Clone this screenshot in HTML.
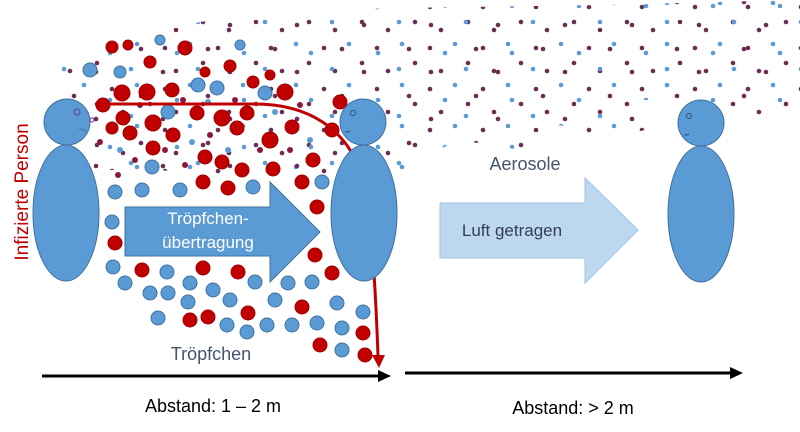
<!DOCTYPE html>
<html><head><meta charset="utf-8"><style>
html,body{margin:0;padding:0;background:#fff;}
svg{display:block;font-family:"Liberation Sans",sans-serif;}
</style></head><body>
<svg width="800" height="432" viewBox="0 0 800 432" xmlns="http://www.w3.org/2000/svg">
<defs>
<pattern id="pa" width="53" height="41" patternUnits="userSpaceOnUse">
<circle cx="6" cy="7" r="2.3" fill="#6b2d55"/><circle cx="31" cy="3" r="2.3" fill="#5b9bd5"/>
<circle cx="44" cy="22" r="2.3" fill="#6b2d55"/><circle cx="17" cy="30" r="2.3" fill="#6b2d55"/>
</pattern>
<pattern id="pb" width="67" height="47" patternUnits="userSpaceOnUse" x="19" y="13">
<circle cx="10" cy="12" r="2.3" fill="#6b2d55"/><circle cx="45" cy="9" r="2.3" fill="#5b9bd5"/>
<circle cx="55" cy="36" r="2.3" fill="#6b2d55"/><circle cx="24" cy="40" r="2.3" fill="#5b9bd5"/>
</pattern>
</defs>
<polygon points="62,60 120,40 200,22 270,12 400,8 600,5 800,0 800,105 760,115 700,100 640,100 645,130 600,140 560,125 520,150 460,140 420,158 400,180 330,175 250,180 160,170 90,170 62,120" fill="url(#pa)"/>
<polygon points="62,60 120,40 200,22 270,12 400,8 600,5 800,0 800,105 760,115 700,100 640,100 645,130 600,140 560,125 520,150 460,140 420,158 400,180 330,175 250,180 160,170 90,170 62,120" fill="url(#pb)"/>
<g fill="#c00000" stroke="#a00000">
<circle cx="122" cy="93" r="8"/><circle cx="147" cy="92" r="8"/><circle cx="172" cy="90" r="7"/><circle cx="253" cy="82" r="6"/><circle cx="285" cy="92" r="8"/><circle cx="103" cy="105" r="7"/>
<circle cx="123" cy="118" r="7"/><circle cx="153" cy="123" r="8"/><circle cx="197" cy="113" r="7"/><circle cx="222" cy="118" r="8"/><circle cx="247" cy="113" r="7"/><circle cx="112" cy="128" r="6"/><circle cx="130" cy="133" r="7"/><circle cx="173" cy="135" r="7"/><circle cx="237" cy="128" r="7"/><circle cx="270" cy="140" r="8"/><circle cx="292" cy="127" r="7"/><circle cx="313" cy="160" r="7"/><circle cx="332" cy="130" r="7"/><circle cx="340" cy="102" r="7"/>
<circle cx="153" cy="148" r="7"/><circle cx="205" cy="157" r="7"/><circle cx="222" cy="162" r="7"/><circle cx="242" cy="170" r="7"/><circle cx="273" cy="169" r="7"/><circle cx="302" cy="182" r="7"/><circle cx="203" cy="182" r="7"/><circle cx="228" cy="188" r="7"/><circle cx="317" cy="207" r="7"/>
<circle cx="115" cy="243" r="7"/><circle cx="315" cy="255" r="7"/><circle cx="142" cy="270" r="7"/><circle cx="203" cy="268" r="7"/><circle cx="238" cy="272" r="7"/><circle cx="332" cy="273" r="7"/><circle cx="302" cy="307" r="7"/><circle cx="190" cy="320" r="7"/><circle cx="208" cy="317" r="7"/><circle cx="248" cy="313" r="7"/><circle cx="363" cy="333" r="7"/><circle cx="320" cy="345" r="7"/><circle cx="365" cy="355" r="7"/>
<circle cx="112" cy="47" r="6"/><circle cx="128" cy="45" r="5"/><circle cx="185" cy="48" r="7"/><circle cx="150" cy="62" r="6"/><circle cx="230" cy="66" r="6"/><circle cx="205" cy="72" r="5"/><circle cx="270" cy="75" r="5"/>
</g>
<g fill="#5b9bd5" stroke="#41719c">
<circle cx="198" cy="85" r="7"/><circle cx="217" cy="88" r="7"/><circle cx="265" cy="93" r="7"/><circle cx="168" cy="112" r="7"/><circle cx="152" cy="167" r="7"/><circle cx="322" cy="182" r="7"/><circle cx="253" cy="187" r="7"/><circle cx="115" cy="192" r="7"/><circle cx="142" cy="190" r="7"/><circle cx="180" cy="190" r="7"/>
<circle cx="112" cy="222" r="7"/><circle cx="113" cy="267" r="7"/><circle cx="167" cy="272" r="7"/><circle cx="125" cy="283" r="7"/><circle cx="150" cy="293" r="7"/><circle cx="168" cy="293" r="7"/><circle cx="190" cy="283" r="7"/><circle cx="213" cy="290" r="7"/><circle cx="255" cy="282" r="7"/><circle cx="288" cy="283" r="7"/><circle cx="312" cy="282" r="7"/><circle cx="188" cy="302" r="7"/><circle cx="230" cy="300" r="7"/><circle cx="275" cy="300" r="7"/><circle cx="337" cy="303" r="7"/><circle cx="158" cy="318" r="7"/><circle cx="227" cy="325" r="7"/><circle cx="247" cy="332" r="7"/><circle cx="267" cy="325" r="7"/><circle cx="292" cy="325" r="7"/><circle cx="317" cy="323" r="7"/><circle cx="342" cy="328" r="7"/><circle cx="363" cy="312" r="7"/><circle cx="342" cy="350" r="7"/>
<circle cx="90" cy="70" r="7"/><circle cx="120" cy="72" r="6"/><circle cx="160" cy="40" r="5"/><circle cx="240" cy="45" r="5"/>
</g>
<g fill="#8b1a3a">
<circle cx="140" cy="105" r="3"/><circle cx="183" cy="100" r="3"/><circle cx="210" cy="135" r="3"/><circle cx="260" cy="150" r="3"/><circle cx="135" cy="160" r="3"/><circle cx="185" cy="165" r="3"/><circle cx="118" cy="175" r="3"/><circle cx="290" cy="150" r="3"/><circle cx="165" cy="150" r="3"/><circle cx="235" cy="100" r="3"/><circle cx="100" cy="142" r="3"/><circle cx="300" cy="105" r="3"/>
</g>
<g fill="#5b9bd5">
<circle cx="192" cy="142" r="3"/><circle cx="228" cy="150" r="3"/><circle cx="208" cy="102" r="3"/><circle cx="275" cy="112" r="3"/><circle cx="310" cy="140" r="3"/><circle cx="120" cy="150" r="3"/>
</g>
<path d="M103,104 L255,104 C310,104 345,130 360,170 C372,210 376,300 378,356" fill="none" stroke="#c00000" stroke-width="3"/>
<polygon points="372,355 385,355 379,368" fill="#c00000"/>
<g fill="#5b9bd5" stroke="#41719c" stroke-width="1">
<ellipse cx="66" cy="213" rx="33" ry="68"/>
<circle cx="67" cy="122" r="23"/>
<ellipse cx="364" cy="213" rx="33" ry="68"/>
<circle cx="363" cy="122" r="23"/>
<ellipse cx="701" cy="214" rx="33" ry="68"/>
<circle cx="701" cy="123" r="23"/>
</g>
<circle cx="77" cy="112" r="3" fill="none" stroke="#7030a0"/>
<circle cx="92" cy="120" r="2" fill="none" stroke="#7030a0"/>
<path d="M79,129 q5,0 7,3" fill="none" stroke="#41719c"/>
<circle cx="353" cy="113" r="2.5" fill="none" stroke="#2f4f6f"/>
<path d="M345,132 q4,0 5,-1" fill="none" stroke="#2f4f6f"/>
<circle cx="689" cy="116" r="2.5" fill="none" stroke="#2f4f6f"/>
<path d="M684,135 q4,0 5,-1" fill="none" stroke="#2f4f6f"/>
<polygon points="125,207 270,207 270,182 320,232 270,282 270,256 125,256" fill="#5b9bd5" stroke="#41719c"/>
<text x="208" y="224" font-size="17" fill="#fff" text-anchor="middle">Tröpfchen-</text>
<text x="208" y="248" font-size="17" fill="#fff" text-anchor="middle">übertragung</text>
<polygon points="440,203 585,203 585,178 638,230 585,283 585,258 440,258" fill="#bdd7ee" stroke="#9dc3e6"/>
<text x="512" y="236" font-size="17" fill="#333f50" text-anchor="middle">Luft getragen</text>
<text x="211" y="360" font-size="18" fill="#44546a" text-anchor="middle">Tröpfchen</text>
<text x="525" y="170" font-size="18" fill="#44546a" text-anchor="middle">Aerosole</text>
<text transform="translate(28,192) rotate(-90)" font-size="19" fill="#c00000" text-anchor="middle">Infizierte Person</text>
<line x1="42" y1="376" x2="380" y2="376" stroke="#000" stroke-width="3"/>
<polygon points="378,370 391,376 378,382" fill="#000"/>
<line x1="405" y1="373" x2="732" y2="373" stroke="#000" stroke-width="3"/>
<polygon points="730,367 743,373 730,379" fill="#000"/>
<text x="213" y="412" font-size="18" fill="#000" text-anchor="middle">Abstand: 1 – 2 m</text>
<text x="573" y="414" font-size="18" fill="#000" text-anchor="middle">Abstand: &gt; 2 m</text>
</svg>
</body></html>
